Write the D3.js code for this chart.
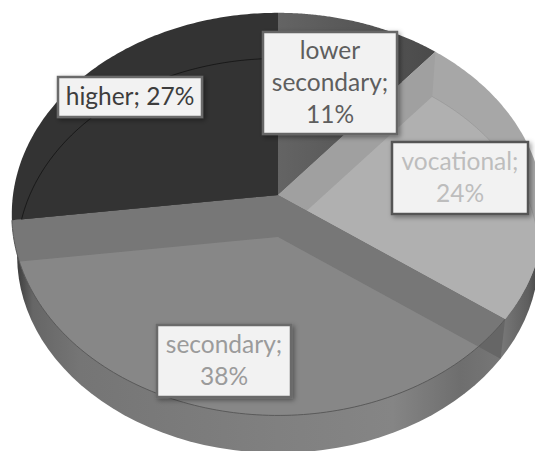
<!DOCTYPE html>
<html>
<head>
<meta charset="utf-8">
<script src="https://cdn.jsdelivr.net/npm/d3@7/dist/d3.min.js"></script>
<style>
html,body{margin:0;padding:0;background:#fff;overflow:hidden}
text{font-family:Lato,"Open Sans",sans-serif;font-size:24.5px}
</style>
</head>
<body>
<svg id="c" width="535" height="451"></svg>
<script>
// Data, in drawing order (clockwise from 12 o'clock)
const categories = ["lower secondary", "vocational", "secondary", "higher"];
const values = [11, 24, 38, 27];
const labelLines = [["lower", "secondary;", "11%"], ["vocational;", "24%"], ["secondary;", "38%"], ["higher; 27%"]];

// Styles
const rimColors = ["url(#lowerGrad)", "#a7a7a7", "#777777", "#333333"];
const bandColors = ["url(#lowerGrad)", "#a0a0a0", "#777777", "#333333"];
const faceColors = ["url(#lowerGrad)", "#b0b0b0", "#878787", "#333333"];
const arcLineOpacity = [0, 0.08, 0, 0.5];
const labelColors = ["#5e5e5e", "#bdbdbd", "#9b9b9b", "#3d3d3d"];
const borderColors = ["#666666", "#555555", "#6a6a6a", "#6a6a6a"];
// Label box layout: left, top, right, bottom
const labelBoxes = [[263, 32, 397, 134], [392, 142, 528, 214], [157, 325, 291, 397], [58, 77, 202, 117]];

// Perspective projection of the pie disk
const cx = 278, cy = 195, Rx = 265, Ry = 199.5, persp = 0.095;
const depthScale = 0.98, depthShift = 42;
const project = (a) => {
  const u = Math.sin(a), v = Math.cos(a), w = 1 / (1 + persp * v);
  return [cx + Rx * u * w, cy - Ry * v * w];
};
const lower = ([x, y]) => [cx + (x - cx) * depthScale, cy + (y - cy) * depthScale + depthShift];
const arcPoints = (a0, a1) => d3.range(0, 121).map(i => project(a0 + (a1 - a0) * i / 120));
const sector = (d) => [[cx, cy], ...arcPoints(d.startAngle, d.endAngle)];
const wallQuad = (a) => { const p = project(a); return [[cx, cy], p, lower(p), lower([cx, cy])]; };
const line = d3.line().curve(d3.curveLinearClosed);
const open = d3.line();

const arcs = d3.pie().sort(null).value(d => d)(values);
const disk = arcPoints(0, 2 * Math.PI);

const svg = d3.select("#c");
const defs = svg.append("defs");

const addGradient = (id, stops, attrs) => {
  const gr = defs.append("linearGradient").attr("id", id);
  Object.entries(attrs || {}).forEach(([k, v]) => gr.attr(k, v));
  gr.selectAll("stop").data(stops).join("stop")
    .attr("offset", d => d[0]).attr("stop-color", d => d[1]);
};
addGradient("wall", [[0, "#3e3e3e"], [0.03, "#666"], [0.12, "#757575"], [0.5, "#808080"], [0.72, "#858585"], [0.85, "#6e6e6e"], [0.93, "#777"], [0.98, "#5e5e5e"], [1, "#444"]]);
addGradient("lowerGrad", [[0, "#646464"], [1, "#4a4a4a"]],
  { gradientUnits: "userSpaceOnUse", x1: cx, y1: 0, x2: project(arcs[1].startAngle)[0], y2: 0 });

const shadow = defs.append("filter").attr("id", "shadow")
  .attr("x", "-20%").attr("y", "-20%").attr("width", "140%").attr("height", "140%");
shadow.append("feDropShadow").attr("dx", 2).attr("dy", 2).attr("stdDeviation", 2.5)
  .attr("flood-color", "#000").attr("flood-opacity", 0.4);

arcs.forEach((d, i) => {
  defs.append("clipPath").attr("id", "clip" + i).append("path").attr("d", line(sector(d)));
});

// Side wall
svg.append("path").attr("d", line(disk.map(lower))).attr("fill", "url(#wall)");

// End cap of the lowered slice at its right corner
svg.append("path").attr("d", line(wallQuad(arcs[2].startAngle))).attr("fill", "#666");

// Slices: the rim, the radial walls, then the lowered face, all clipped to the slice
const g = svg.selectAll("g.slice").data(arcs).join("g").attr("class", "slice");
g.append("path").attr("d", d => line(sector(d))).attr("fill", (d, i) => rimColors[i]);
g.append("path").attr("d", d => line(wallQuad(d.startAngle)))
  .attr("clip-path", (d, i) => `url(#clip${i})`).attr("fill", (d, i) => bandColors[i]);
g.append("path").attr("d", d => line(wallQuad(d.endAngle)))
  .attr("clip-path", (d, i) => `url(#clip${i})`).attr("fill", (d, i) => bandColors[i]);
g.append("path")
  .attr("d", d => line(sector(d).map(lower)))
  .attr("clip-path", (d, i) => `url(#clip${i})`)
  .attr("fill", (d, i) => faceColors[i]);
g.append("path")
  .attr("d", d => open(arcPoints(d.startAngle, d.endAngle).map(lower)))
  .attr("clip-path", (d, i) => `url(#clip${i})`)
  .attr("fill", "none").attr("stroke", "#000").attr("stroke-opacity", (d, i) => arcLineOpacity[i]).attr("stroke-width", 1);

// Edge between the disk and the wall along the secondary slice
svg.append("path")
  .attr("d", open(arcPoints(arcs[2].startAngle, arcs[2].endAngle)))
  .attr("fill", "none").attr("stroke", "#5a5a5a").attr("stroke-width", 1);

// Labels
const lh = 32;
const lab = svg.selectAll("g.label").data(categories).join("g").attr("class", "label");
lab.append("rect")
  .attr("x", (d, i) => labelBoxes[i][0]).attr("y", (d, i) => labelBoxes[i][1])
  .attr("width", (d, i) => labelBoxes[i][2] - labelBoxes[i][0])
  .attr("height", (d, i) => labelBoxes[i][3] - labelBoxes[i][1])
  .attr("fill", "#f2f2f2").attr("stroke", (d, i) => borderColors[i]).attr("stroke-width", 2.5)
  .attr("filter", "url(#shadow)");
lab.each(function (d, i) {
  const b = labelBoxes[i], ls = labelLines[i];
  const mid = (b[1] + b[3]) / 2;
  d3.select(this).selectAll("text").data(ls).join("text")
    .attr("x", (b[0] + b[2]) / 2)
    .attr("y", (t, j) => mid + (j - (ls.length - 1) / 2) * lh)
    .attr("dy", "0.34em")
    .attr("text-anchor", "middle")
    .attr("fill", labelColors[i])
    .text(t => t);
});
</script>
</body>
</html>
